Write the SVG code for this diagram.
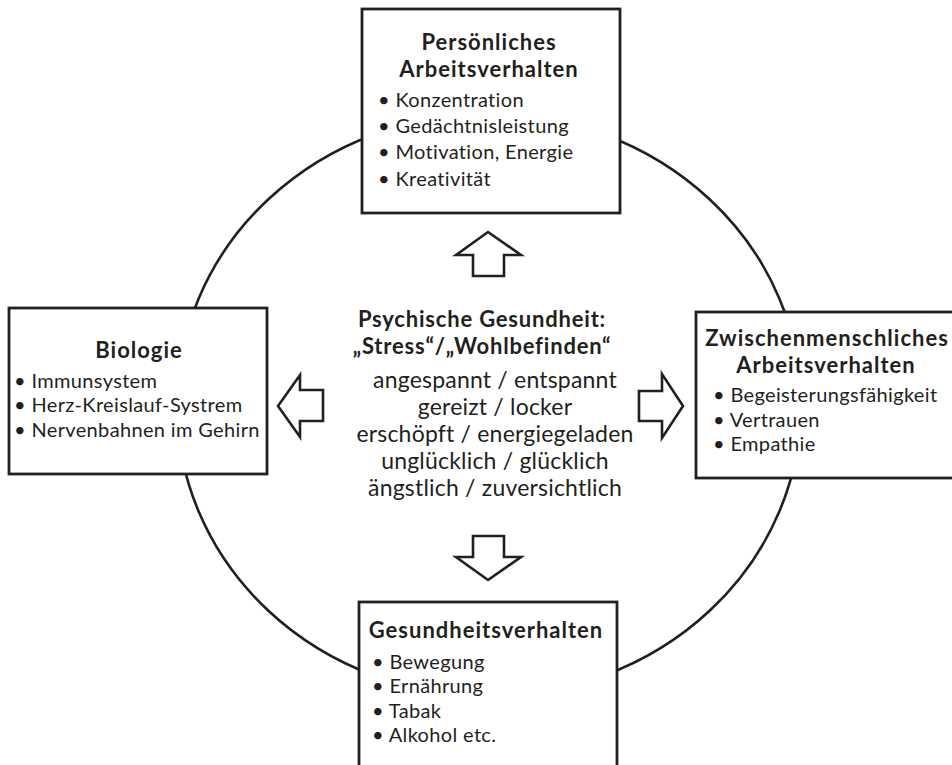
<svg xmlns="http://www.w3.org/2000/svg" width="952" height="765" viewBox="0 0 952 765">
<style>
  .box { fill: #ffffff; stroke: #231f20; stroke-width: 2.8; }
  .ring { fill: none; stroke: #231f20; stroke-width: 2.6; }
  .arrow { fill: #ffffff; stroke: #231f20; stroke-width: 2.6; stroke-linejoin: miter; }
  text { font-family: Lato, "Open Sans", "DejaVu Sans", sans-serif; fill: #231f20; }
  .title { font-weight: bold; font-size: 22px; letter-spacing: 1px; text-anchor: middle; }
  .item { font-size: 20px; letter-spacing: 0.35px; }
  .center { font-size: 23px; letter-spacing: 0.2px; text-anchor: middle; }
  .ctitle { font-weight: bold; font-size: 22px; letter-spacing: 0.8px; text-anchor: middle; }
</style>
<rect width="952" height="765" fill="#ffffff"/>
<g id="connectors">
  <ellipse class="ring" cx="489" cy="405" rx="312" ry="291"/>
  <polygon class="arrow" points="488,232 521,255 504,255 504,276 473,276 473,255 456,255"/>
  <polygon class="arrow" points="488,580 521,557 504,557 504,536 473,536 473,557 456,557"/>
  <polygon class="arrow" points="278,406 300,375 300,390 323,390 323,421 300,421 300,437"/>
  <polygon class="arrow" points="683,406 662,374 662,391 639,391 639,421 662,421 662,438"/>
</g>
<g id="node-top">
  <rect class="box" x="362" y="9" width="258" height="204"/>
  <text class="title" x="489" y="50">Persönliches</text>
  <text class="title" x="489" y="77">Arbeitsverhalten</text>
  <text class="item" x="378" y="107">• Konzentration</text>
  <text class="item" x="378" y="133">• Gedächtnisleistung</text>
  <text class="item" x="378" y="159">• Motivation, Energie</text>
  <text class="item" x="378" y="186">• Kreativität</text>
</g>
<g id="node-left">
  <rect class="box" x="9" y="308" width="258" height="166"/>
  <text class="title" x="139" y="358">Biologie</text>
  <text class="item" x="14" y="388">• Immunsystem</text>
  <text class="item" x="14" y="412">• Herz-Kreislauf-Systrem</text>
  <text class="item" x="14" y="437">• Nervenbahnen im Gehirn</text>
</g>
<g id="node-right">
  <rect class="box" x="696" y="312" width="270" height="166"/>
  <text class="title" x="827" y="346">Zwischenmenschliches</text>
  <text class="title" x="826" y="373">Arbeitsverhalten</text>
  <text class="item" x="713" y="402">• Begeisterungsfähigkeit</text>
  <text class="item" x="713" y="427">• Vertrauen</text>
  <text class="item" x="713" y="451">• Empathie</text>
</g>
<g id="node-bottom">
  <rect class="box" x="359" y="602" width="258" height="180"/>
  <text class="title" x="486" y="638">Gesundheitsverhalten</text>
  <text class="item" x="372" y="669">• Bewegung</text>
  <text class="item" x="372" y="693">• Ernährung</text>
  <text class="item" x="372" y="718">• Tabak</text>
  <text class="item" x="372" y="742">• Alkohol etc.</text>
</g>
<g id="node-center">
  <text class="ctitle" x="482" y="327">Psychische Gesundheit:</text>
  <text class="ctitle" x="482" y="354">„Stress“/„Wohlbefinden“</text>
  <text class="center" x="495" y="388">angespannt / entspannt</text>
  <text class="center" x="495" y="415">gereizt / locker</text>
  <text class="center" x="495" y="442">erschöpft / energiegeladen</text>
  <text class="center" x="495" y="469">unglücklich / glücklich</text>
  <text class="center" x="495" y="496">ängstlich / zuversichtlich</text>
</g>
</svg>
